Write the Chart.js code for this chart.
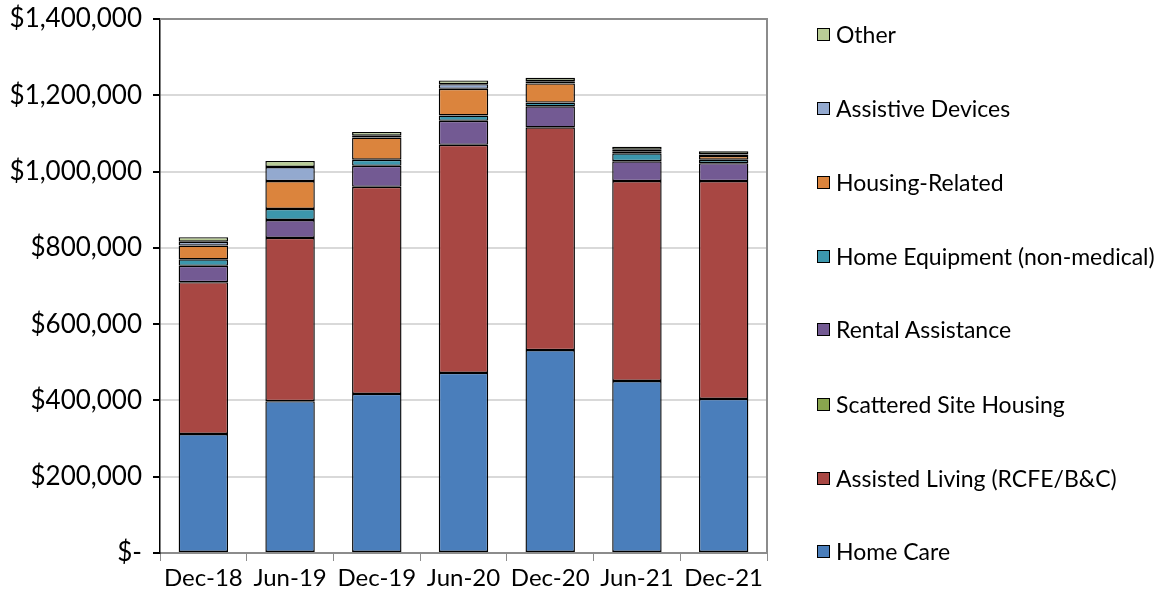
<!DOCTYPE html>
<html>
<head>
<meta charset="utf-8">
<script src="https://cdn.jsdelivr.net/npm/chart.js@4"></script>
<style>
  body { margin: 0; background: #fff; }
  #wrap { position: relative; width: 1159px; height: 603px; }
  #legend { position: absolute; left: 817px; top: 0; font-family: Lato, sans-serif; font-size: 23px; color: #000; }
  .item { position: absolute; left: 0; white-space: nowrap; display: flex; align-items: center; height: 28px; }
  .box { width: 11px; height: 11px; border: 1.5px solid #000; margin-right: 6px; }
</style>
</head>
<body>
<div id="wrap">
  <canvas id="chart" width="1159" height="603"></canvas>
  <div id="legend"></div>
</div>
<script>
// categories and series (stack order bottom to top)
const categories = ["Dec-18", "Jun-19", "Dec-19", "Jun-20", "Dec-20", "Jun-21", "Dec-21"];

const homeCare = [312000, 398000, 417000, 472000, 532000, 451000, 404000];
const assistedLiving = [398000, 428000, 543000, 598000, 584000, 524000, 571000];
const scatteredSite = [0, 0, 0, 0, 0, 0, 0];
const rentalAssistance = [43000, 47000, 55000, 63000, 55000, 52000, 47000];
const homeEquipment = [17000, 29000, 16000, 14000, 10000, 21000, 9000];
const housingRelated = [36000, 73000, 58000, 70000, 50000, 5000, 10000];
const assistiveDevices = [10000, 37000, 5000, 12000, 6000, 4000, 4000];
const other = [12000, 16000, 10000, 10000, 9000, 8000, 8000];

const seriesNames = [
	"Home Care",
	"Assisted Living (RCFE/B&C)",
	"Scattered Site Housing",
	"Rental Assistance",
	"Home Equipment (non-medical)",
	"Housing-Related",
	"Assistive Devices",
	"Other",
];
const seriesData = [homeCare, assistedLiving, scatteredSite, rentalAssistance, homeEquipment, housingRelated, assistiveDevices, other];
const seriesColors = ["#4A7EBB", "#A84743", "#89A54E", "#735A93", "#3C97AD", "#DB843D", "#93A9CF", "#B9CD96"];

const yTicks = [0, 200000, 400000, 600000, 800000, 1000000, 1200000, 1400000];

// zero segments are skipped so they don't leave an extra border line
const datasets = seriesNames.map((name, i) => ({
	label: name,
	data: seriesData[i].map((v) => (v === 0 ? null : v)),
	backgroundColor: seriesColors[i],
	borderColor: "#000",
	borderWidth: 1.4,
	borderSkipped: false,
	barPercentage: 0.57,
	categoryPercentage: 1,
}));

// gray frame on top and right of plot area
const frame = {
	id: "frame",
	beforeDatasetsDraw(chart) {
		const {ctx, chartArea: a} = chart;
		ctx.save();
		ctx.strokeStyle = "#8C8C8C";
		ctx.lineWidth = 2;
		ctx.beginPath();
		ctx.moveTo(a.left, a.top);
		ctx.lineTo(a.right, a.top);
		ctx.lineTo(a.right, a.bottom);
		ctx.stroke();
		ctx.restore();
	},
};

new Chart(document.getElementById("chart"), {
	type: "bar",
	data: { labels: categories, datasets },
	plugins: [frame],
	options: {
		responsive: false,
		animation: false,
		layout: { padding: { top: 19, right: 392, left: 0, bottom: 0 } },
		plugins: { legend: { display: false }, tooltip: { enabled: false } },
		scales: {
			x: {
				stacked: true,
				grid: { drawOnChartArea: false, color: "#8C8C8C", tickLength: 8, offset: true },
				border: { color: "#8C8C8C", width: 2 },
				ticks: { color: "#000", font: { family: "Lato", size: 24 }, padding: 3 },
				afterFit: (s) => { s.height = 50; s.paddingLeft = 0; s.paddingRight = 0; },
			},
			y: {
				stacked: true,
				min: 0,
				max: 1400000,
				afterBuildTicks: (s) => { s.ticks = yTicks.map((v) => ({ value: v })); },
				grid: {
					color: (c) => (c.tick && (c.tick.value === 0 || c.tick.value === 1400000) ? "rgba(0,0,0,0)" : "#D9D9D9"),
					lineWidth: 2,
					tickColor: "#000",
					tickLength: 7,
				},
				border: { color: "#000", width: 1.5 },
				ticks: {
					color: "#000",
					font: { family: "Lato", size: 26 },
					padding: 11,
					callback: (v) => (v === 0 ? "$-" : "$" + v.toLocaleString("en-US")),
				},
				afterFit: (s) => { s.width = 160; s.paddingTop = 0; s.paddingBottom = 0; },
			},
		},
	},
});

// legend, top entry first
const legend = document.getElementById("legend");
const legendY = [34, 108, 182, 256, 329, 404, 478, 551];
for (let k = 0; k < seriesNames.length; k++) {
	const i = seriesNames.length - 1 - k;
	const item = document.createElement("div");
	item.className = "item";
	item.style.top = legendY[k] - 14 + "px";
	item.innerHTML = '<span class="box" style="background:' + seriesColors[i] + '"></span>';
	item.appendChild(document.createTextNode(seriesNames[i]));
	legend.appendChild(item);
}
</script>
</body>
</html>
